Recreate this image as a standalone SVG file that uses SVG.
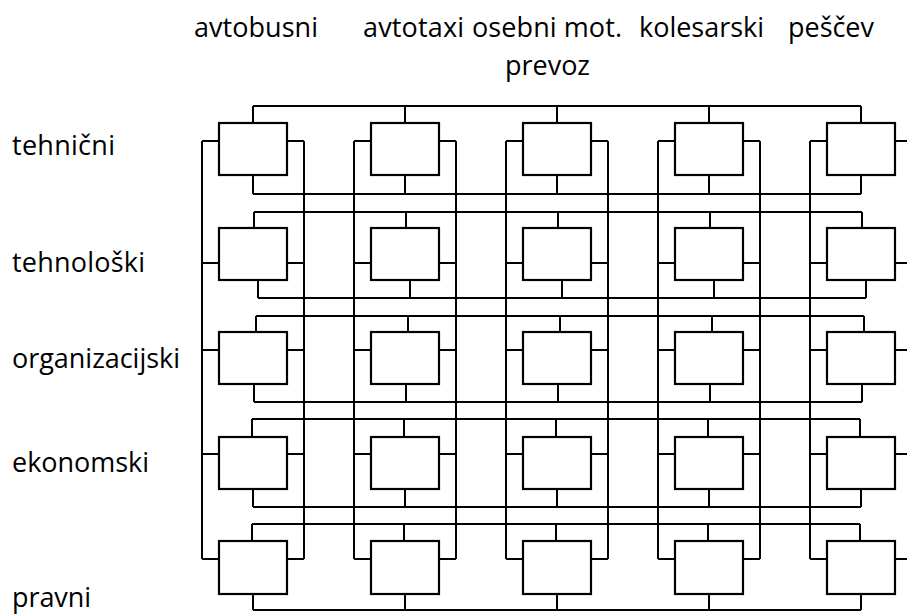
<svg xmlns="http://www.w3.org/2000/svg" width="907" height="614" viewBox="0 0 907 614">
<style>
.box{fill:#fff;stroke:#000;stroke-width:2.2}
.wire{fill:none;stroke:#000;stroke-width:2}
text{font-family:"Open Sans","Liberation Sans",sans-serif;font-size:27px;fill:#000}
</style>
<rect width="907" height="614" fill="#fff"/>
<g id="labels">
<text x="194" y="37" textLength="124">avtobusni</text>
<text x="363" y="37" textLength="101">avtotaxi</text>
<text x="472" y="37" textLength="150">osebni mot.</text>
<text x="639" y="37" textLength="125">kolesarski</text>
<text x="788" y="37" textLength="86">peščev</text>
<text x="505" y="75" textLength="85">prevoz</text>
<text x="12" y="155" textLength="103">tehnični</text>
<text x="12" y="272" textLength="133">tehnološki</text>
<text x="12" y="368" textLength="168">organizacijski</text>
<text x="12" y="472" textLength="137">ekonomski</text>
<text x="12" y="607" textLength="79">pravni</text>
</g>
<g id="connectors" class="wire">
<path d="M202 141V559M304 141V559M354 141V559M456 141V559M506 141V559M608 141V559M658 141V559M760 141V559M810 141V559"/>
<path d="M202 141H219M287 141H304M354 141H371M439 141H456M506 141H523M591 141H608M658 141H675M743 141H760M810 141H827M895 141H907M253 106V123M405 106V123M557 106V123M709 106V123M861 106V123M253 175V194M405 175V194M557 175V194M709 175V194M861 175V194M253 106H861M253 194H861"/>
<path d="M202 263H219M287 263H304M354 263H371M439 263H456M506 263H523M591 263H608M658 263H675M743 263H760M810 263H827M895 263H907M254 212V228M406 212V228M558 212V228M710 212V228M862 212V228M258 280V298M410 280V298M562 280V298M714 280V298M866 280V298M254 212H862M258 298H866"/>
<path d="M202 350H219M287 350H304M354 350H371M439 350H456M506 350H523M591 350H608M658 350H675M743 350H760M810 350H827M895 350H907M256 316V332M408 316V332M560 316V332M712 316V332M864 316V332M254 384V402M406 384V402M558 384V402M710 384V402M862 384V402M256 316H864M254 402H862"/>
<path d="M202 454H219M287 454H304M354 454H371M439 454H456M506 454H523M591 454H608M658 454H675M743 454H760M810 454H827M895 454H907M252 419V437M404 419V437M556 419V437M708 419V437M860 419V437M253 489V507M405 489V507M557 489V507M709 489V507M861 489V507M252 419H860M253 507H861"/>
<path d="M202 559H219M287 559H304M354 559H371M439 559H456M506 559H523M591 559H608M658 559H675M743 559H760M810 559H827M895 559H907M252 524V541M404 524V541M556 524V541M708 524V541M860 524V541M253 594V610M405 594V610M557 594V610M709 594V610M861 594V610M252 524H860M253 610H861"/>
</g>
<g id="r1c1"><rect class="box" x="219" y="123" width="68" height="52"/></g>
<g id="r1c2"><rect class="box" x="371" y="123" width="68" height="52"/></g>
<g id="r1c3"><rect class="box" x="523" y="123" width="68" height="52"/></g>
<g id="r1c4"><rect class="box" x="675" y="123" width="68" height="52"/></g>
<g id="r1c5"><rect class="box" x="827" y="123" width="68" height="52"/></g>
<g id="r2c1"><rect class="box" x="219" y="228" width="68" height="52"/></g>
<g id="r2c2"><rect class="box" x="371" y="228" width="68" height="52"/></g>
<g id="r2c3"><rect class="box" x="523" y="228" width="68" height="52"/></g>
<g id="r2c4"><rect class="box" x="675" y="228" width="68" height="52"/></g>
<g id="r2c5"><rect class="box" x="827" y="228" width="68" height="52"/></g>
<g id="r3c1"><rect class="box" x="219" y="332" width="68" height="52"/></g>
<g id="r3c2"><rect class="box" x="371" y="332" width="68" height="52"/></g>
<g id="r3c3"><rect class="box" x="523" y="332" width="68" height="52"/></g>
<g id="r3c4"><rect class="box" x="675" y="332" width="68" height="52"/></g>
<g id="r3c5"><rect class="box" x="827" y="332" width="68" height="52"/></g>
<g id="r4c1"><rect class="box" x="219" y="437" width="68" height="52"/></g>
<g id="r4c2"><rect class="box" x="371" y="437" width="68" height="52"/></g>
<g id="r4c3"><rect class="box" x="523" y="437" width="68" height="52"/></g>
<g id="r4c4"><rect class="box" x="675" y="437" width="68" height="52"/></g>
<g id="r4c5"><rect class="box" x="827" y="437" width="68" height="52"/></g>
<g id="r5c1"><rect class="box" x="219" y="541" width="68" height="53"/></g>
<g id="r5c2"><rect class="box" x="371" y="541" width="68" height="53"/></g>
<g id="r5c3"><rect class="box" x="523" y="541" width="68" height="53"/></g>
<g id="r5c4"><rect class="box" x="675" y="541" width="68" height="53"/></g>
<g id="r5c5"><rect class="box" x="827" y="541" width="68" height="53"/></g>
</svg>
